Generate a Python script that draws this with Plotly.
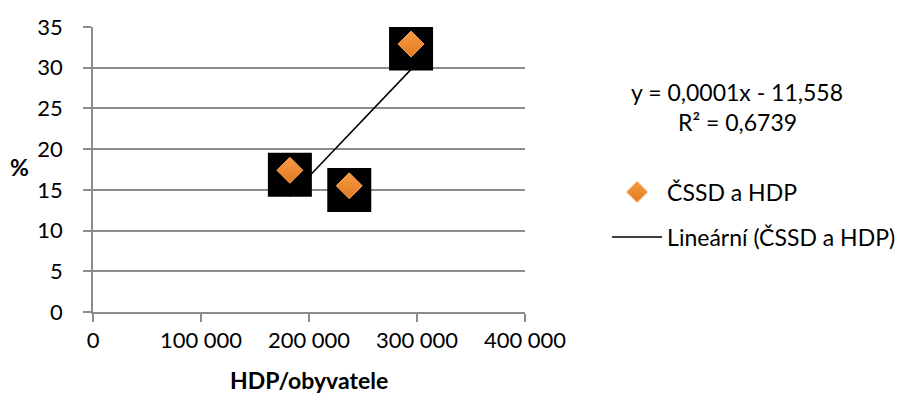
import numpy as np
import plotly.graph_objects as go

# Data
gdp_per_capita = [182300, 237300, 294500]   # HDP/obyvatele
cssd_pct = [17.4, 15.5, 32.9]               # %
x_ticks = [0, 100000, 200000, 300000, 400000]
y_ticks = [0, 5, 10, 15, 20, 25, 30, 35]
series_name = "ČSSD a HDP"
trend_name = "Lineární (ČSSD a HDP)"
equation_text = "y = 0,0001x - 11,558"
r2_text = "R² = 0,6739"

FONT = "Lato"
FS_TICK = 22
FS_TEXT = 23
GRID = "#8c8c8c"

# linear trend from the data
slope, intercept = np.polyfit(gdp_per_capita, cssd_pct, 1)
tx = [min(gdp_per_capita), max(gdp_per_capita)]
ty = [slope * v + intercept for v in tx]

fig = go.Figure()

fig.add_trace(go.Scatter(
    x=tx, y=ty, mode="lines", name=trend_name,
    line=dict(color="black", width=1.5),
    xaxis="x", yaxis="y", legend="legend2",
))
fig.add_trace(go.Scatter(
    x=gdp_per_capita, y=cssd_pct, mode="markers", showlegend=False,
    marker=dict(symbol="square", size=44, color="black", line=dict(width=0)),
    xaxis="x", yaxis="y2", hoverinfo="skip",
))
fig.add_trace(go.Scatter(
    x=gdp_per_capita, y=cssd_pct, mode="markers", name=series_name,
    marker=dict(symbol="diamond", size=20, color="#F89A43",
                gradient=dict(type="vertical", color="#E27A22"),
                line=dict(color="#F6A65F", width=1)),
    xaxis="x", yaxis="y3", legend="legend",
))

yshift_units = 0.53
fig.update_layout(
    width=906, height=395,
    margin=dict(l=93, r=381, t=27, b=83, autoexpand=False),
    paper_bgcolor="white", plot_bgcolor="white",
    separators=", ",
    font=dict(family=FONT, size=FS_TICK, color="black"),
    xaxis=dict(range=[0, 400000], tickvals=x_ticks, tickformat=",d",
               showgrid=False, zeroline=False, showline=True,
               linecolor=GRID, linewidth=1.5, ticks="outside", ticklen=8,
               tickcolor=GRID, tickwidth=1.5, ticklabelstandoff=0,
               tickfont=dict(size=FS_TICK)),
    yaxis=dict(range=[0, 35], tickvals=y_ticks, showgrid=True,
               gridcolor=GRID, gridwidth=1.5, zeroline=False, showline=True,
               linecolor=GRID, linewidth=1.5, ticks="outside", ticklen=8,
               tickcolor=GRID, tickwidth=1.5, ticklabelstandoff=16,
               tickfont=dict(size=FS_TICK)),
    yaxis2=dict(range=[yshift_units, 35 + yshift_units], overlaying="y",
                visible=False),
    yaxis3=dict(range=[0, 35], overlaying="y", visible=False),
    legend=dict(x=1.19, xanchor="left", y=0.421, yanchor="middle",
                bgcolor="rgba(0,0,0,0)", font=dict(family=FONT, size=FS_TEXT),
                itemwidth=50),
    legend2=dict(x=1.19, xanchor="left", y=0.263, yanchor="middle",
                 bgcolor="rgba(0,0,0,0)", font=dict(family=FONT, size=FS_TEXT),
                 itemwidth=50),
    showlegend=True,
    annotations=[
        dict(text=equation_text, x=1.491, y=0.772, xref="paper", yref="paper",
             xanchor="center", yanchor="middle", showarrow=False,
             font=dict(family=FONT, size=FS_TEXT)),
        dict(text=r2_text, x=1.491, y=0.667, xref="paper", yref="paper",
             xanchor="center", yanchor="middle", showarrow=False,
             font=dict(family=FONT, size=FS_TEXT)),
        dict(text="<b>%</b>", x=-0.169, y=0.508, xref="paper", yref="paper",
             xanchor="center", yanchor="middle", showarrow=False,
             font=dict(family=FONT, size=FS_TEXT)),
        dict(text="<b>HDP/obyvatele</b>", x=0.5, y=-0.238, xref="paper",
             yref="paper", xanchor="center", yanchor="middle",
             showarrow=False, font=dict(family=FONT, size=FS_TEXT)),
    ],
)

fig.write_html("out.html", config={"displayModeBar": False},
               post_script="document.body.style.margin='0';")
